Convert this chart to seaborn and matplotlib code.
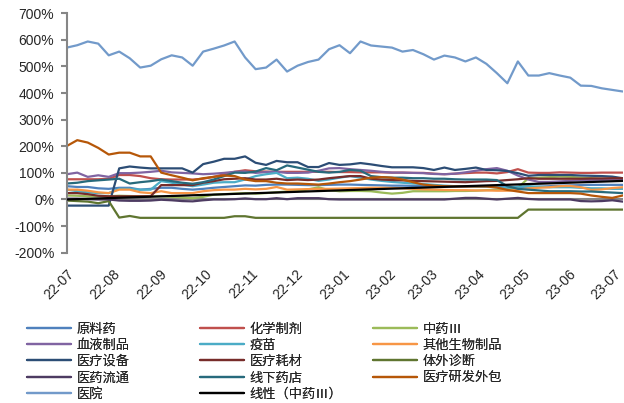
import numpy as np
import pandas as pd
import matplotlib
matplotlib.use('Agg')
import matplotlib.pyplot as plt
import matplotlib.dates as mdates
from matplotlib.ticker import MultipleLocator, FuncFormatter
from matplotlib.lines import Line2D
import seaborn as sns

# 周度数据，2022-07 到 2023-07
dates = pd.date_range('2022-07-01', periods=54, freq='7D')

names = ['原料药', '化学制剂', '中药Ⅲ', '血液制品', '疫苗', '其他生物制品',
         '医疗设备', '医疗耗材', '体外诊断', '医药流通', '线下药店', '医疗研发外包', '医院']
colors = ['#4F81BD', '#C0504D', '#9BBB59', '#8064A2', '#4BACC6', '#F79646',
          '#2C4D75', '#772C2A', '#5F7530', '#4D3B62', '#276A7C', '#B65708', '#729ACA']

yuanliao = [50, 47, 47, 42, 40, 44, 44, 37, 40, 44, 44, 40, 37, 40, 44, 47, 50, 53, 52, 55,
            56, 56, 55, 54, 54, 55, 56, 56, 55, 54, 53, 52, 52, 51, 50, 50, 50, 49, 48, 48,
            48, 47, 47, 44, 45, 48, 50, 52, 53, 54, 55, 55, 55, 55]
huaxue = [76, 76, 76, 76, 78, 92, 92, 88, 80, 76, 75, 75, 75, 78, 85, 95, 104, 110, 106, 105,
          104, 104, 104, 104, 104, 104, 103, 103, 102, 102, 102, 101, 101, 100, 100, 97, 95, 97, 99, 101,
          101, 98, 103, 114, 101, 100, 100, 102, 101, 100, 100, 101, 101, 101]
zhongyao = [15, 14, 12, 12, 12, 14, 13, 12, 12, 12, 10, 8, 5, 10, 18, 20, 22, 24, 22, 24,
            27, 30, 31, 38, 46, 35, 31, 32, 32, 31, 26, 22, 25, 31, 31, 31, 31, 32, 32, 33,
            35, 37, 40, 44, 80, 82, 84, 86, 85, 82, 80, 78, 77, 76]
xueye = [95, 101, 85, 91, 85, 99, 99, 101, 104, 108, 102, 100, 98, 95, 97, 100, 104, 105, 100, 103,
         104, 100, 100, 101, 108, 117, 118, 114, 111, 108, 104, 101, 101, 100, 99, 96, 95, 97, 102, 108,
         114, 118, 108, 90, 75, 66, 66, 68, 70, 72, 74, 74, 75, 75]
yimiao = [37, 31, 27, 24, 24, 40, 40, 37, 37, 69, 63, 56, 50, 56, 63, 65, 65, 75, 88, 95,
          100, 80, 82, 78, 70, 75, 82, 88, 82, 75, 70, 66, 63, 60, 58, 55, 52, 50, 50, 48,
          48, 46, 44, 48, 50, 48, 46, 46, 46, 44, 42, 42, 40, 40]
qita = [37, 37, 33, 27, 24, 37, 37, 27, 24, 31, 24, 24, 24, 31, 35, 37, 37, 40, 38, 40,
        47, 37, 38, 39, 40, 40, 41, 42, 43, 44, 44, 43, 42, 40, 38, 37, 36, 35, 35, 34,
        34, 33, 33, 36, 42, 44, 46, 50, 51, 46, 36, 38, 43, 46]
shebei = [-23, -23, -23, -23, -23, 117, 124, 120, 117, 117, 117, 117, 101, 133, 142, 153, 153, 162, 138, 130,
          145, 140, 140, 122, 122, 137, 130, 132, 137, 132, 126, 121, 121, 121, 118, 111, 120, 111, 115, 120,
          111, 110, 107, 99, 89, 92, 92, 92, 92, 90, 89, 88, 86, 80]
haocai = [24, 24, 20, 14, 12, 12, 12, 12, 12, 54, 54, 54, 54, 63, 69, 76, 78, 80, 75, 75,
          78, 73, 75, 73, 75, 80, 84, 88, 88, 78, 75, 73, 72, 70, 69, 68, 67, 66, 65, 67,
          69, 70, 73, 76, 80, 78, 78, 78, 78, 78, 79, 79, 80, 80]
zhenduan = [-4, -6, -8, -14, -6, -68, -62, -69, -69, -69, -69, -69, -69, -69, -69, -69, -63, -63, -69, -69,
            -69, -69, -69, -69, -69, -69, -69, -69, -69, -69, -69, -69, -69, -69, -69, -69, -69, -69, -69, -69,
            -69, -69, -69, -69, -38, -38, -38, -38, -38, -38, -38, -38, -38, -38]
liutong = [3, 3, 1, 0, 0, -4, -5, -5, -4, -1, -3, -6, -7, -3, 0, 0, 1, 4, 1, 1,
           5, 1, 5, 5, 5, 1, 0, 0, 0, 0, 0, 0, 0, 0, 0, 0, 0, 3, 6, 6,
           3, 0, 3, 6, 2, 0, 0, 0, 0, -6, -7, -6, -3, -8]
yaodian = [60, 63, 69, 72, 75, 78, 60, 65, 69, 75, 69, 63, 59, 65, 75, 88, 101, 100, 105, 118,
           110, 128, 120, 112, 104, 101, 104, 111, 108, 88, 84, 82, 82, 80, 80, 78, 78, 76, 75, 75,
           75, 73, 50, 40, 37, 34, 31, 31, 31, 30, 30, 28, 26, 24]
waibao = [201, 223, 214, 194, 169, 176, 176, 162, 162, 101, 91, 82, 72, 80, 85, 90, 88, 75, 69, 69,
          63, 60, 60, 58, 56, 60, 65, 69, 75, 82, 84, 82, 75, 65, 56, 52, 50, 49, 49, 49,
          49, 45, 36, 30, 24, 24, 24, 24, 24, 22, 15, 10, 6, 15]
yiyuan = [571, 580, 594, 586, 542, 556, 531, 496, 503, 527, 542, 534, 503, 556, 567, 579, 594, 534, 490, 496,
          526, 481, 503, 517, 526, 565, 580, 550, 594, 579, 575, 571, 556, 562, 546, 526, 541, 534, 519, 534,
          510, 475, 437, 519, 466, 466, 475, 466, 458, 428, 427, 418, 412, 406]

values = [yuanliao, huaxue, zhongyao, xueye, yimiao, qita, shebei, haocai,
          zhenduan, liutong, yaodian, waibao, yiyuan]

df = pd.DataFrame({'日期': np.tile(dates, len(names)),
                   '涨幅': np.concatenate(values),
                   '行业': np.repeat(names, len(dates))})

# 中药Ⅲ 线性趋势
xi = np.arange(len(dates))
coef = np.polyfit(xi, zhongyao, 1)
trend = np.polyval(coef, xi)

sns.set_style('white')
plt.rcParams['font.family'] = ['Liberation Sans', 'Noto Sans CJK SC', 'DejaVu Sans']

fig, ax = plt.subplots(figsize=(6.24, 4.03), dpi=100)
fig.subplots_adjust(left=0.107, right=0.998, top=0.967, bottom=0.373)

ax.axhline(0, color='#868686', lw=1.5, zorder=1)
sns.lineplot(data=df, x='日期', y='涨幅', hue='行业', hue_order=names,
             palette=dict(zip(names, colors)), lw=1.6, legend=False, ax=ax, zorder=2)
sns.lineplot(x=dates, y=trend, color='black', lw=1.6, ax=ax, zorder=3)

ax.set_ylim(-200, 700)
ax.set_xlim(dates[0], dates[-1])
ax.yaxis.set_major_locator(MultipleLocator(100))
ax.yaxis.set_major_formatter(FuncFormatter(lambda v, p: f'{v:.0f}%'))
ax.xaxis.set_major_locator(mdates.MonthLocator())
ax.xaxis.set_major_formatter(mdates.DateFormatter('%y-%m'))
ax.set_xlabel('')
ax.set_ylabel('')

for s in ['top', 'right', 'bottom']:
    ax.spines[s].set_visible(False)
ax.spines['left'].set_color('#868686')
ax.spines['left'].set_linewidth(1.5)
ax.tick_params(axis='y', length=4, width=1.5, color='#868686', direction='out',
               left=True, labelsize=10, pad=5)
ax.tick_params(axis='x', length=0, labelsize=10, pad=10)
plt.setp(ax.get_xticklabels(), rotation=45, ha='right', rotation_mode='anchor')

# 图例：三列，手动摆放
handles = [Line2D([], [], color=c, lw=1.6) for c in colors]
trend_h = Line2D([], [], color='black', lw=1.6)
cols = [([0, 3, 6, 9, 12], None), ([1, 4, 7, 10], trend_h), ([2, 5, 8, 11], None)]
xs = [27, 200, 373]
for (idx, extra), x in zip(cols, xs):
    hs = [handles[i] for i in idx]
    ls = [names[i] for i in idx]
    if extra is not None:
        hs.append(extra)
        ls.append('线性（中药Ⅲ）')
    leg = fig.legend(hs, ls, loc='upper left', bbox_to_anchor=(x / 624, 1 - 322.5 / 403),
                     frameon=False, borderpad=0, borderaxespad=0, handlelength=3.3,
                     handletextpad=0.45, labelspacing=0.25,
                     prop={'family': ['Noto Sans CJK SC', 'DejaVu Sans'], 'size': 9.5})
    fig.add_artist(leg)

fig.savefig('out.png', dpi=100)
